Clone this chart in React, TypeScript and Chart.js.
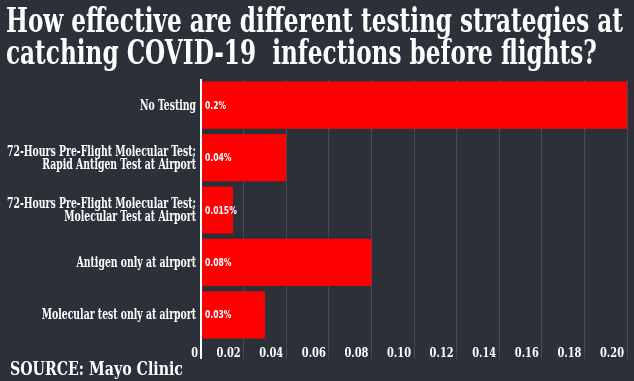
import React, { useEffect, useRef } from "react";
import { Chart, registerables } from "chart.js";

Chart.register(...registerables);

const titleLines = [
  "How effective are different testing strategies at",
  "catching COVID-19  infections before flights?",
];
const sourceText = "SOURCE: Mayo Clinic";
const categories: string[][] = [
  ["No Testing"],
  ["72-Hours Pre-Flight Molecular Test;", "Rapid Antigen Test at Airport"],
  ["72-Hours Pre-Flight Molecular Test;", "Molecular Test at Airport"],
  ["Antigen only at airport"],
  ["Molecular test only at airport"],
];
const values = [0.2, 0.04, 0.015, 0.08, 0.03];
const valueLabels = ["0.2%", "0.04%", "0.015%", "0.08%", "0.03%"];
const xTickLabels = ["0", "0.02", "0.04", "0.06", "0.08", "0.10", "0.12", "0.14", "0.16", "0.18", "0.20"];

const BG = "#2b3039";
const SERIF = '"DejaVu Serif Condensed", "DejaVu Serif", serif';

const textPlugin = {
  id: "customText",
  beforeDraw(chart: any) {
    const ctx = chart.ctx;
    ctx.save();
    ctx.fillStyle = BG;
    ctx.fillRect(0, 0, chart.width, chart.height);
    ctx.restore();
  },
  afterDraw(chart: any) {
    const ctx = chart.ctx;
    ctx.save();
    ctx.fillStyle = "#ffffff";
    // Title
    ctx.font = `bold 33px ${SERIF}`;
    ctx.textAlign = "left";
    ctx.textBaseline = "alphabetic";
    const tw = ctx.measureText(titleLines[0]).width;
    const tsx = 617 / tw;
    ctx.save();
    ctx.translate(6, 0);
    ctx.scale(tsx, 1);
    ctx.fillText(titleLines[0], 0, 32);
    ctx.fillText(titleLines[1], 0, 64);
    ctx.restore();

    // Source
    ctx.font = `bold 18px ${SERIF}`;
    const sw = ctx.measureText(sourceText).width;
    const ssx = 173 / sw;
    ctx.save();
    ctx.translate(10, 0);
    ctx.scale(ssx, 1);
    ctx.fillText(sourceText, 0, 375);
    ctx.restore();

    // Category labels
    const yScale = chart.scales.y;
    ctx.font = `bold 14px ${SERIF}`;
    const lw = ctx.measureText(categories[1][0]).width;
    const lsx = 189 / lw;
    const rightX = chart.chartArea.left - 5;
    ctx.textAlign = "right";
    ctx.textBaseline = "alphabetic";
    categories.forEach((lines, i) => {
      const cy = yScale.getPixelForValue(i);
      const lh = 13;
      const start = cy + 4.5 - ((lines.length - 1) * lh) / 2;
      lines.forEach((line, j) => {
        ctx.save();
        ctx.translate(rightX, 0);
        ctx.scale(lsx, 1);
        ctx.fillText(line, 0, start + j * lh);
        ctx.restore();
      });
    });

    // X tick labels (right-aligned just left of each grid line)
    const xScale = chart.scales.x;
    ctx.font = `bold 13px ${SERIF}`;
    const xw = ctx.measureText("0.02").width;
    const xsx = 24 / xw;
    ctx.textAlign = "right";
    xScale.ticks.forEach((t: any, i: number) => {
      const px = xScale.getPixelForValue(t.value);
      ctx.save();
      ctx.translate(px - 3, 0);
      ctx.scale(xsx, 1);
      ctx.fillText(xTickLabels[i], 0, 357);
      ctx.restore();
    });

    // Value labels inside bars
    const meta = chart.getDatasetMeta(0);
    ctx.font = `bold 10px "DejaVu Sans Condensed", "DejaVu Sans", sans-serif`;
    ctx.textAlign = "left";
    ctx.textBaseline = "middle";
    meta.data.forEach((bar: any, i: number) => {
      ctx.save();
      ctx.translate(bar.base + 3, 0);
      ctx.scale(0.85, 1);
      ctx.fillText(valueLabels[i], 0, bar.y + 1);
      ctx.restore();
    });
    ctx.restore();
  },
};

export default function App() {
  const canvasRef = useRef<HTMLCanvasElement | null>(null);

  useEffect(() => {
    document.body.style.margin = "0";
    const canvas = canvasRef.current;
    if (!canvas) return;
    const chart = new Chart(canvas, {
      type: "bar",
      data: {
        labels: categories.map((c) => c.join(" ")),
        datasets: [
          {
            data: values,
            backgroundColor: "#ff0000",
            borderWidth: 0,
            barPercentage: 0.9,
            categoryPercentage: 1,
          },
        ],
      },
      options: {
        indexAxis: "y",
        animation: false,
        responsive: false,
        maintainAspectRatio: false,
        layout: { padding: { left: 201, right: 7, top: 79, bottom: 0 } },
        plugins: {
          legend: { display: false },
          title: { display: false },
          tooltip: { enabled: false },
        },
        scales: {
          x: {
            min: 0,
            max: 0.2,
            afterFit: (scale: any) => {
              scale.height = 40;
            },
            border: { display: false },
            grid: {
              color: (c: any) => (c.tick && c.tick.value === 0 ? "#ffffff" : "rgba(255,255,255,0.13)"),
              lineWidth: (c: any) => (c.tick && c.tick.value === 0 ? 2 : 1),
              tickLength: 18,
            },
            ticks: {
              stepSize: 0.02,
              display: false,
              autoSkip: false,
            },
          },
          y: {
            display: false,
          },
        },
      },
      plugins: [textPlugin],
    });
    return () => chart.destroy();
  }, []);

  return (
    <div style={{ width: 634, height: 381, position: "relative" }}>
      <canvas ref={canvasRef} width={634} height={381} style={{ display: "block" }} />
    </div>
  );
}
